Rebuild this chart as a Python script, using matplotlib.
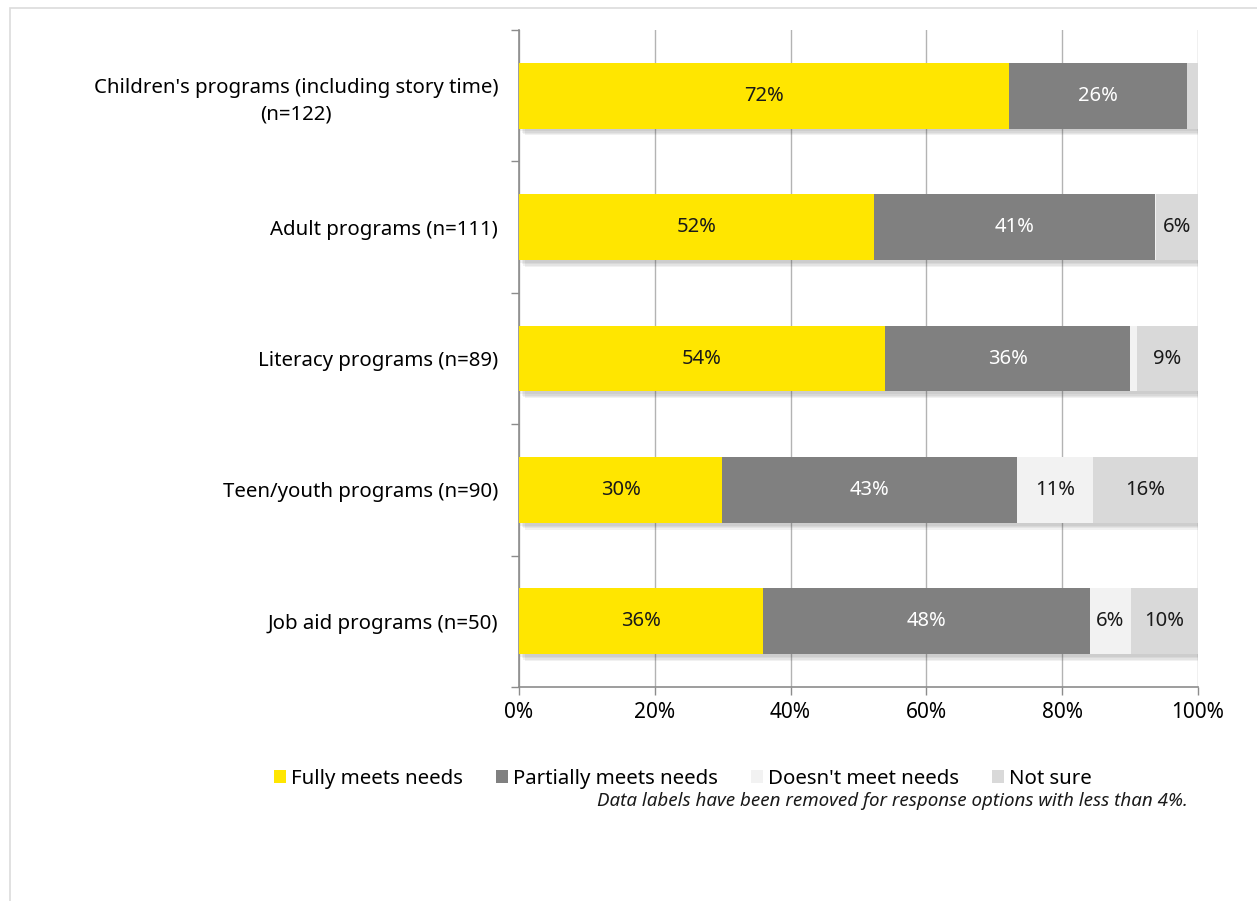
import matplotlib
matplotlib.use("Agg")
import matplotlib.pyplot as plt
from matplotlib.patches import Rectangle, Patch
from matplotlib import patheffects as pe

plt.rcParams['font.family'] = ['Noto Sans', 'DejaVu Sans']

categories = [
    "Children's programs (including story time)\n(n=122)",
    "Adult programs (n=111)",
    "Literacy programs (n=89)",
    "Teen/youth programs (n=90)",
    "Job aid programs (n=50)",
]
fully = [72.2, 52.3, 53.9, 29.9, 35.9]
partially = [26.2, 41.4, 36.1, 43.4, 48.2]
doesnt = [0.0, 0.1, 1.0, 11.2, 6.0]
not_sure = [1.6, 6.2, 9.0, 15.5, 9.9]

series_names = ["Fully meets needs", "Partially meets needs",
                "Doesn't meet needs", "Not sure"]
series_values = [fully, partially, doesnt, not_sure]
colors = ["#FFE600", "#808080", "#F2F2F2", "#D9D9D9"]
label_colors = ["#1a1a1a", "white", "#1a1a1a", "#1a1a1a"]
footnote = "Data labels have been removed for response options with less than 4%."

fig = plt.figure(figsize=(12.57, 9.01), dpi=100)
W, H = 1257, 901

# light frame around the chart area
fig.patches.append(Rectangle((10 / W, -0.1), 1.2, 1 - 8 / H + 0.1,
                             transform=fig.transFigure, fill=False,
                             edgecolor="#dcdcdc", linewidth=1.2, zorder=0))

ax = fig.add_axes([519 / W, 1 - 687 / H, (1198 - 519) / W, (687 - 30) / H])

# soft drop shadow built from stacked offsets
shadow = [pe.SimplePatchShadow(offset=(k, -k - 1), shadow_rgbFace="#404040", alpha=0.07)
          for k in (4, 3, 2, 1)] + [pe.Normal()]

ypos = list(range(len(categories)))
left = [0.0] * len(categories)
for name, vals, col, lc in zip(series_names, series_values, colors, label_colors):
    bars = ax.barh(ypos, vals, left=left, height=0.5, color=col,
                   zorder=3, linewidth=0)
    for b in bars:
        b.set_path_effects(shadow)
    for y, v, l in zip(ypos, vals, left):
        if v >= 4:
            ax.text(l + v / 2, y, f"{round(v):d}%", ha="center", va="center",
                    color=lc, fontsize=14.5, zorder=4)
    left = [l + v for l, v in zip(left, vals)]

ax.set_xlim(0, 100)
ax.set_ylim(len(categories) - 0.5, -0.5)
ax.set_xticks(range(0, 101, 20))
ax.set_xticklabels([f"{t}%" for t in range(0, 101, 20)], fontsize=15)
ax.set_yticks(ypos)
ax.set_yticklabels(categories, fontsize=14.7, linespacing=1.4)
for t in ax.get_yticklabels():
    t.set_multialignment("center")
ax.set_yticks([i - 0.5 for i in range(len(categories) + 1)], minor=True)
ax.tick_params(axis="y", which="major", length=0, pad=15)
ax.tick_params(axis="y", which="minor", length=6, color="#8c8c8c", width=1)
ax.tick_params(axis="x", length=6, color="#8c8c8c", width=1, pad=5)

ax.grid(axis="x", color="#b3b3b3", linewidth=1, zorder=0)
ax.set_axisbelow(True)
for s in ["top", "right"]:
    ax.spines[s].set_visible(False)
for s in ["left", "bottom"]:
    ax.spines[s].set_color("#8c8c8c")
    ax.spines[s].set_linewidth(1.2)

handles = [Patch(facecolor=c, edgecolor="none", label=n)
           for c, n in zip(colors, series_names)]
fig.legend(handles=handles, loc="center", bbox_to_anchor=(683 / W, 1 - 779 / H),
           ncol=4, frameon=False, fontsize=14.7, handlelength=0.6, handleheight=0.6,
           handletextpad=0.25, columnspacing=1.6)

fig.text(1188 / W, 1 - 801 / H, footnote, ha="right", va="center",
         fontsize=13.5, style="italic", color="#1a1a1a")

fig.savefig("out.png", dpi=100)
